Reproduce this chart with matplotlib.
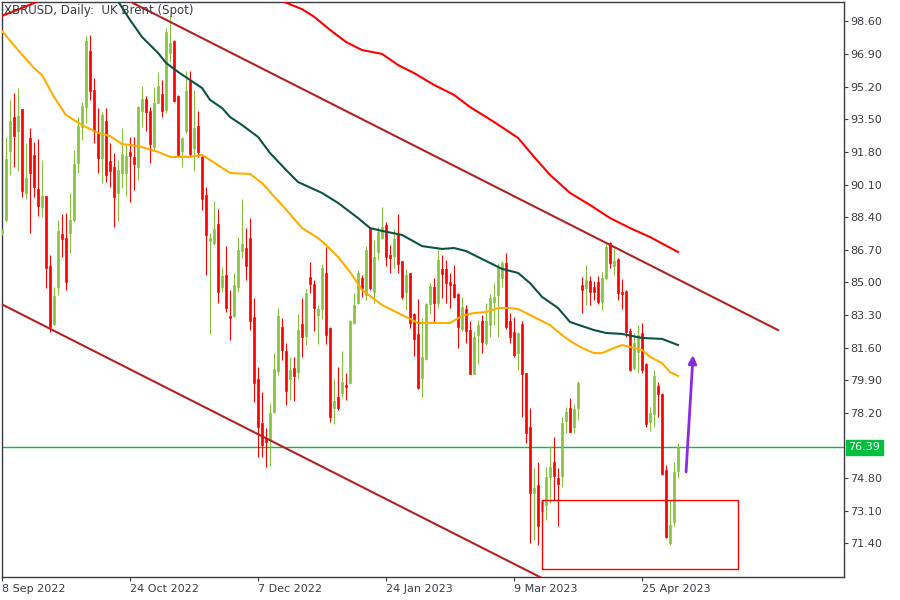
"""
XBRUSD daily candles with moving averages, channel lines and annotations
(MetaTrader-style screenshot recreation).
"""
import matplotlib
matplotlib.use("Agg")
import matplotlib.pyplot as plt
from matplotlib.patches import Rectangle

GREEN_C = "#86c440"
RED_C = "#ff0000"
ORANGE = "#ffad00"
TEAL = "#0b5247"
BROWN = "#b22222"
LEVEL = "#00c040"
PURPLE = "#8a2be2"
AXIS_C = "#3a3d44"

plt.rcParams.update({
    "font.family": "DejaVu Sans",
    "font.size": 8,
})

# ---- OHLC, one entry per daily bar (bar 0 = 8 Sep 2022) ----
opens = [
    87.56, 88.25, 91.85, 93.64, 92.89, 94.04, 89.64, 92.54, 91.64, 89.87,
    88.95, 89.50, 85.85, 82.83, 84.74, 87.50, 87.31, 87.59, 88.25, 91.21,
    93.12, 94.12, 97.08, 95.03, 92.82, 91.50, 93.43, 91.33, 91.03, 89.68,
    90.72, 90.70, 91.81, 91.55, 91.03, 93.95, 94.54, 93.93, 92.07, 94.37,
    94.82, 93.99, 96.94, 97.58, 94.72, 91.87, 92.91, 95.52, 91.99, 93.17,
    91.55, 89.55, 87.17, 87.07, 88.02, 84.74, 85.38, 83.24, 83.24, 84.74,
    86.65, 86.81, 87.33, 83.21, 79.96, 77.65, 76.90, 76.78, 78.26, 80.38,
    82.69, 81.42, 79.96, 80.51, 80.34, 82.83, 82.20, 85.26, 84.91, 83.30,
    83.61, 85.47, 82.64, 78.43, 79.00, 79.25, 79.65, 79.77, 82.90, 83.91,
    85.24, 84.34, 87.82, 84.51, 86.60, 87.29, 87.99, 86.43, 86.37, 87.47,
    86.11, 84.51, 85.47, 83.35, 82.31, 79.99, 81.00, 83.85, 84.74, 83.94,
    85.68, 85.68, 85.00, 84.90, 84.39, 82.55, 83.61, 82.51, 80.22, 82.25,
    82.98, 81.85, 82.77, 83.99, 84.34, 85.21, 86.03, 83.00, 82.43, 81.30,
    82.81, 80.25, 77.47, 74.03, 74.43, 73.08, 73.39, 74.87, 75.62, 74.78,
    74.90, 77.77, 78.47, 77.47, 78.47, 84.86, 84.72, 85.07, 84.77, 85.03,
    83.99, 85.21, 87.03, 85.87, 86.20, 84.51, 84.57, 82.46, 80.52, 81.39,
    82.34, 80.74, 77.74, 78.13, 79.61, 79.18, 75.22, 71.39, 72.52, 75.18,
]
highs = [
    87.76, 92.60, 94.51, 94.86, 95.12, 94.04, 92.25, 93.03, 92.33, 92.47,
    91.38, 89.50, 86.43, 84.77, 88.25, 88.55, 88.60, 89.64, 91.90, 93.60,
    94.42, 97.84, 97.90, 95.64, 94.11, 93.90, 94.11, 92.28, 91.73, 91.38,
    93.06, 92.20, 92.60, 92.60, 94.19, 95.24, 94.72, 94.16, 95.20, 95.98,
    95.55, 98.24, 98.94, 97.63, 94.77, 92.60, 96.04, 96.04, 95.03, 93.93,
    91.64, 89.99, 87.56, 89.24, 88.81, 85.82, 86.90, 84.60, 85.47, 87.35,
    89.35, 87.82, 88.34, 84.17, 80.60, 79.30, 77.39, 78.73, 81.30, 83.64,
    83.16, 81.82, 81.12, 81.12, 83.33, 84.17, 84.63, 86.08, 85.12, 83.82,
    85.94, 86.86, 82.69, 79.94, 80.57, 81.42, 80.26, 83.04, 84.43, 85.64,
    85.38, 86.90, 87.85, 87.21, 87.90, 88.95, 88.16, 86.95, 87.76, 88.56,
    86.11, 85.69, 85.50, 83.42, 84.11, 83.12, 83.90, 84.95, 85.24, 86.69,
    86.43, 86.16, 85.47, 85.90, 84.46, 84.25, 83.82, 82.98, 82.46, 83.04,
    83.30, 83.94, 84.39, 84.95, 85.99, 86.13, 86.51, 83.38, 83.21, 82.43,
    82.98, 80.25, 78.43, 75.30, 75.62, 73.65, 75.39, 76.48, 76.95, 75.30,
    78.00, 78.52, 78.99, 78.64, 79.87, 85.30, 85.90, 85.33, 85.09, 85.33,
    85.56, 87.12, 87.12, 86.77, 86.25, 85.16, 84.60, 82.64, 82.34, 82.78,
    82.86, 80.78, 78.52, 80.43, 79.79, 79.21, 75.48, 73.65, 75.65, 76.64,
]
lows = [
    87.47, 88.16, 90.60, 91.03, 90.82, 89.47, 89.35, 87.56, 89.43, 88.48,
    88.39, 84.69, 82.43, 82.78, 84.34, 86.34, 84.60, 86.51, 88.16, 90.68,
    92.42, 93.29, 94.51, 92.25, 90.68, 90.20, 90.25, 89.99, 87.87, 88.22,
    89.90, 89.50, 89.21, 89.81, 90.34, 93.08, 92.89, 91.21, 91.90, 94.33,
    93.64, 93.81, 96.51, 94.42, 91.64, 91.00, 92.77, 91.55, 90.82, 91.55,
    88.77, 85.38, 82.29, 86.95, 83.91, 84.51, 83.44, 81.99, 83.21, 84.51,
    86.25, 85.12, 82.52, 78.78, 75.91, 75.91, 75.35, 75.44, 78.21, 80.17,
    80.95, 78.60, 78.86, 78.83, 79.96, 81.12, 81.73, 84.43, 82.48, 81.79,
    83.07, 81.79, 77.73, 77.60, 78.34, 79.04, 78.87, 79.74, 82.83, 83.85,
    84.25, 84.08, 84.60, 83.94, 86.17, 87.24, 85.85, 85.47, 85.73, 85.47,
    84.13, 83.56, 82.64, 81.18, 79.44, 79.00, 80.95, 83.35, 82.95, 83.64,
    84.17, 83.90, 83.64, 84.16, 81.56, 82.48, 81.85, 80.20, 80.20, 80.74,
    81.33, 81.73, 82.17, 82.77, 82.17, 84.77, 82.55, 81.85, 81.09, 80.43,
    78.00, 76.61, 71.39, 71.57, 71.30, 72.52, 72.61, 73.48, 73.65, 72.30,
    74.35, 77.13, 77.18, 77.13, 77.82, 83.38, 83.82, 83.82, 84.08, 83.87,
    83.56, 85.12, 85.73, 85.38, 84.08, 83.59, 82.17, 80.39, 80.43, 80.26,
    80.26, 77.47, 77.27, 77.47, 78.00, 74.95, 71.65, 71.30, 72.30, 74.82,
]
closes = [
    87.73, 91.41, 93.41, 92.63, 93.67, 89.76, 90.42, 90.72, 89.95, 89.00,
    89.50, 85.73, 82.69, 84.29, 87.68, 87.24, 85.04, 88.25, 91.17, 93.15,
    94.19, 97.58, 94.99, 92.89, 91.50, 93.73, 90.60, 90.81, 89.47, 90.86,
    91.67, 91.60, 91.59, 91.17, 94.16, 94.54, 93.90, 92.21, 94.37, 95.24,
    93.93, 98.07, 97.46, 94.46, 91.64, 92.54, 94.99, 91.69, 93.03, 91.81,
    89.35, 87.47, 87.33, 87.76, 84.51, 85.33, 83.64, 83.16, 84.86, 86.69,
    87.00, 85.87, 82.98, 79.73, 77.48, 76.52, 76.69, 78.21, 80.48, 83.25,
    81.47, 79.35, 80.43, 80.13, 82.51, 82.17, 84.46, 84.91, 83.68, 83.61,
    85.76, 82.25, 77.98, 78.81, 78.47, 79.79, 79.56, 83.00, 83.82, 85.47,
    84.72, 86.69, 84.69, 86.30, 87.64, 87.87, 86.30, 86.29, 87.24, 85.96,
    84.22, 85.38, 82.86, 82.05, 79.47, 81.09, 83.87, 84.81, 83.90, 86.16,
    85.43, 84.98, 84.86, 84.25, 82.65, 83.73, 82.48, 80.20, 82.17, 82.77,
    81.91, 82.98, 84.20, 84.25, 85.76, 86.03, 82.65, 82.17, 81.21, 82.34,
    80.22, 77.13, 74.00, 74.26, 72.30, 73.60, 74.87, 75.39, 74.92, 74.47,
    77.68, 78.26, 77.18, 78.40, 79.77, 84.60, 85.12, 84.51, 84.48, 83.99,
    85.21, 86.86, 85.99, 86.13, 84.46, 84.39, 82.43, 80.43, 81.82, 82.25,
    80.43, 77.61, 78.20, 80.13, 79.18, 74.99, 71.74, 72.35, 75.13, 76.39,
]

# ---- moving averages at sample bars ----
ma_fast_bar = [0, 4, 8, 10, 13, 16, 20, 24, 27, 30, 34, 39, 42, 47, 50, 52, 57,
               62, 65, 67, 70, 75, 79, 81, 84, 87, 90, 93, 95, 97, 100, 104,
               109, 112, 115, 118, 121, 124, 127, 129, 133, 137, 140, 142,
               145, 148, 150, 153, 155, 158, 160, 162, 165, 167, 169]
ma_fast = [98.10, 97.11, 96.17, 95.81, 94.66, 93.72, 93.20, 92.79, 92.63,
           92.21, 92.11, 91.80, 91.54, 91.54, 91.64, 91.38, 90.70, 90.65,
           90.18, 89.71, 89.03, 87.83, 87.31, 86.95, 86.32, 85.54, 84.60,
           84.13, 83.82, 83.61, 83.30, 82.88, 82.88, 82.88, 83.25, 83.40,
           83.45, 83.66, 83.66, 83.61, 83.19, 82.77, 82.25, 81.94, 81.58,
           81.31, 81.31, 81.58, 81.73, 81.58, 81.47, 81.11, 80.79, 80.32,
           80.12]

ma_mid_bar = [27, 32, 35, 39, 41, 44, 47, 50, 52, 55, 57, 60, 64, 67, 71, 74,
              80, 84, 89, 92, 95, 100, 105, 110, 113, 116, 119, 122, 125, 129,
              132, 135, 139, 142, 145, 148, 151, 155, 160, 165, 167, 169]
ma_mid = [100.30, 98.68, 97.79, 96.96, 96.44, 95.97, 95.55, 95.13, 94.51,
          94.09, 93.62, 93.20, 92.58, 91.74, 90.86, 90.23, 89.66, 89.14,
          88.35, 87.83, 87.68, 87.47, 86.89, 86.74, 86.79, 86.63, 86.32,
          86.01, 85.70, 85.49, 84.96, 84.24, 83.66, 82.93, 82.72, 82.51,
          82.36, 82.31, 82.10, 82.05, 81.89, 81.73]

ma_slow_bar = [0, 8, 12, 66, 71, 75, 78, 82, 86, 90, 95, 99, 103, 108, 113,
               117, 123, 129, 133, 137, 142, 147, 152, 157, 162, 169]
ma_slow = [98.89, 99.56, 99.95, 100.10, 99.58, 99.24, 98.85, 98.16, 97.53,
           97.11, 96.91, 96.33, 95.91, 95.29, 94.77, 94.14, 93.36, 92.53,
           91.54, 90.60, 89.66, 89.03, 88.35, 87.83, 87.36, 86.58]

# ---- drawn objects ----
upper_line_bar = [32, 194]
upper_line = [99.64, 82.51]
lower_line_bar = [-0.5, 140]
lower_line = [83.90, 69.05]
level_price = 76.39
box_bar = [135, 184]
box_price = [70.05, 73.65]
arrow_bar = [171, 172.75]
arrow_price = [75.11, 81.21]

# 76.50 is hidden behind the current-price tag in the original
price_ticks = [98.60, 96.90, 95.20, 93.50, 91.80, 90.10, 88.40, 86.70, 85.00,
               83.30, 81.60, 79.90, 78.20, 74.80, 73.10, 71.40]
date_tick_bar = [0, 32, 64, 96, 128, 160]
date_labels = ["8 Sep 2022", "24 Oct 2022", "7 Dec 2022", "24 Jan 2023",
               "9 Mar 2023", "25 Apr 2023"]


def draw_candles(ax):
    n = len(closes)
    for i in range(n):
        o, h, l, c = opens[i], highs[i], lows[i], closes[i]
        col = GREEN_C if c >= o else RED_C
        ax.vlines(i, l, h, color=col, linewidth=0.8, zorder=3)
        body = max(abs(c - o), 0.05)
        ax.bar(i, body, bottom=min(o, c), width=0.62, color=col,
               edgecolor=col, linewidth=0.5, zorder=3)


fig = plt.figure(figsize=(9, 6), dpi=100)
ax = fig.add_axes([0.0017, 0.0383, 0.9356, 0.9584])

draw_candles(ax)

ax.plot(ma_fast_bar, ma_fast, color=ORANGE, lw=1.5, zorder=4)
ax.plot(ma_mid_bar, ma_mid, color=TEAL, lw=1.5, zorder=4)
ax.plot(ma_slow_bar, ma_slow, color=RED_C, lw=1.5, zorder=4)

ax.plot(upper_line_bar, upper_line, color=BROWN, lw=1.5, zorder=5)
ax.plot(lower_line_bar, lower_line, color=BROWN, lw=1.5, zorder=5)

ax.axhline(level_price, color=LEVEL, lw=1.0, zorder=2)
ax.annotate(f"{level_price:.2f}", xy=(1.0, level_price),
            xycoords=("axes fraction", "data"), xytext=(5, 0),
            textcoords="offset pixels", ha="left", va="center",
            color="white", fontsize=8,
            bbox=dict(boxstyle="square,pad=0.2", fc=LEVEL, ec=LEVEL))

ax.add_patch(Rectangle((box_bar[0], box_price[0]), box_bar[1] - box_bar[0],
                       box_price[1] - box_price[0], fill=False,
                       edgecolor=RED_C, lw=1.0, zorder=5))

ax.annotate("", xy=(arrow_bar[1], arrow_price[1]),
            xytext=(arrow_bar[0], arrow_price[0]),
            arrowprops=dict(arrowstyle="-|>,head_length=0.6,head_width=0.3",
                            color=PURPLE, lw=2, shrinkA=0, shrinkB=0),
            zorder=6)

ax.set_xlim(-0.125, 210.375)
ax.set_ylim(69.636, 99.617)

ax.yaxis.tick_right()
ax.set_yticks(price_ticks)
ax.set_yticklabels([f"{p:.2f}" for p in price_ticks])
ax.set_xticks(date_tick_bar)
ax.set_xticklabels(date_labels, ha="left")
ax.tick_params(axis="both", colors=AXIS_C, labelcolor=AXIS_C, length=3,
               width=0.8, labelsize=8, direction="out")
ax.tick_params(axis="y", pad=2)
ax.tick_params(axis="x", pad=2)
for s in ax.spines.values():
    s.set_color(AXIS_C)
    s.set_linewidth(1.0)

fig.text(0.004, 0.982, "XBRUSD, Daily:  UK Brent (Spot)", ha="left",
         va="center", color=AXIS_C, fontsize=8.5, zorder=10)

fig.savefig("out.png", dpi=100)
